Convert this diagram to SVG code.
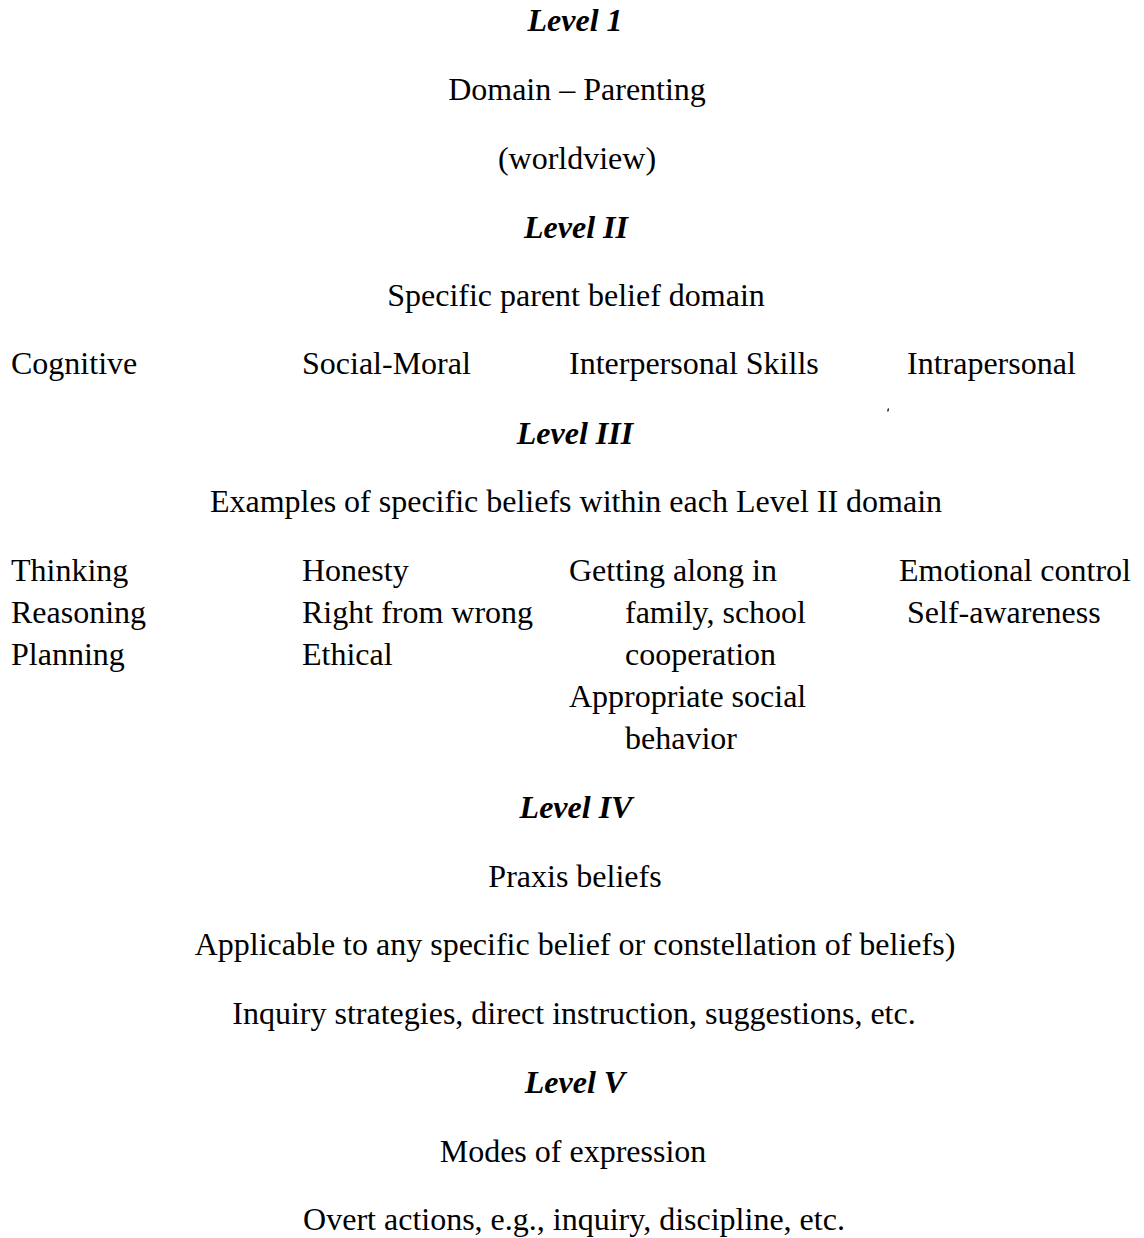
<svg xmlns="http://www.w3.org/2000/svg" width="1144" height="1238" viewBox="0 0 1144 1238">
<style>
text{font-family:"Liberation Serif","Times New Roman",serif;font-size:32px;fill:#000}
.c{text-anchor:middle}
.lv{font-weight:bold;font-style:italic}
</style>
<rect width="1144" height="1238" fill="#fff"/>
<g id="level1">
<text class="c lv" x="575" y="31">Level 1</text>
<text class="c" x="577" y="100">Domain – Parenting</text>
<text class="c" x="577" y="169">(worldview)</text>
</g>
<g id="level2">
<text class="c lv" x="576" y="238">Level II</text>
<text class="c" x="576" y="306">Specific parent belief domain</text>
</g>
<g id="domain-cognitive"><text x="11" y="374">Cognitive</text></g>
<g id="domain-social-moral"><text x="302" y="374">Social-Moral</text></g>
<g id="domain-interpersonal"><text x="569" y="374">Interpersonal Skills</text></g>
<g id="domain-intrapersonal"><text x="907" y="374">Intrapersonal</text></g>
<path d="M888.5 408.5 l-0.8 3" stroke="#000" stroke-width="1.2"/>
<g id="level3">
<text class="c lv" x="575" y="444">Level III</text>
<text class="c" x="576" y="512">Examples of specific beliefs within each Level II domain</text>
</g>
<g id="beliefs-cognitive">
<text x="11" y="581">Thinking</text>
<text x="11" y="623">Reasoning</text>
<text x="11" y="665">Planning</text>
</g>
<g id="beliefs-social-moral">
<text x="302" y="581">Honesty</text>
<text x="302" y="623">Right from wrong</text>
<text x="302" y="665">Ethical</text>
</g>
<g id="beliefs-interpersonal">
<text x="569" y="581">Getting along in</text>
<text x="625" y="623">family, school</text>
<text x="625" y="665">cooperation</text>
<text x="569" y="707">Appropriate social</text>
<text x="625" y="749">behavior</text>
</g>
<g id="beliefs-intrapersonal">
<text x="899" y="581">Emotional control</text>
<text x="907" y="623">Self-awareness</text>
</g>
<g id="level4">
<text class="c lv" x="576" y="818">Level IV</text>
<text class="c" x="575" y="887">Praxis beliefs</text>
<text class="c" x="575" y="955">Applicable to any specific belief or constellation of beliefs)</text>
<text class="c" x="574" y="1024">Inquiry strategies, direct instruction, suggestions, etc.</text>
</g>
<g id="level5">
<text class="c lv" x="575" y="1093">Level V</text>
<text class="c" x="573" y="1162">Modes of expression</text>
<text class="c" x="574" y="1230">Overt actions, e.g., inquiry, discipline, etc.</text>
</g>
</svg>
